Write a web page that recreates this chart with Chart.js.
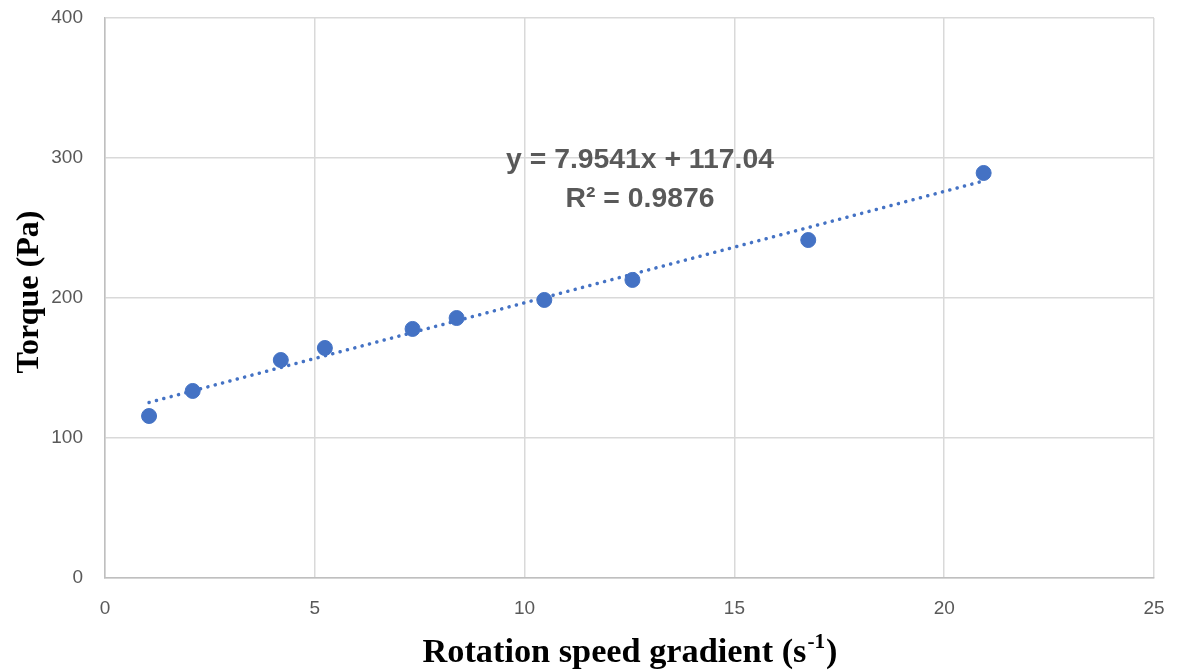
<!DOCTYPE html>
<html>
<head>
<meta charset="utf-8">
<script src="https://cdn.jsdelivr.net/npm/chart.js@4"></script>
<style>
  html, body { margin: 0; padding: 0; background: #ffffff; }
  #wrap { width: 1178px; height: 672px; }
</style>
</head>
<body>
<div id="wrap"><canvas id="torqueChart" width="1178" height="672"></canvas></div>
<script>
// 测量数据
var speedGradient = [1.05, 2.09, 4.19, 5.24, 7.33, 8.38, 10.47, 12.57, 16.76, 20.94];
var torqueValues = [115.7, 133.6, 155.7, 164.3, 177.9, 185.7, 198.6, 212.9, 241.4, 289.3];

// 趋势线两端
var trendX = [1.05, 20.94];
var trendY = [125.4, 283.6];

var equationLines = ['y = 7.9541x + 117.04', 'R\u00b2 = 0.9876'];
var xTitleMain = 'Rotation speed gradient (s';
var xTitleSup = '-1';
var xTitleEnd = ')';
var yTitle = 'Torque (Pa)';

var blue = '#4472C4';
var gridColor = '#d9d9d9';
var tickColor = '#595959';
var serif = '"Liberation Serif", serif';

// 按目标宽度选字号
function fitFont(ctx, text, target, base, family) {
    ctx.font = 'bold ' + base + 'px ' + family;
    var w = ctx.measureText(text).width;
    return base * target / w;
}

// 标题与公式的绘制
var labelPlugin = {
    id: 'labelPlugin',
    afterDraw: function(chart) {
        var ctx = chart.ctx;
        var xs = chart.scales.x;
        var ys = chart.scales.y;
        ctx.save();
        ctx.fillStyle = '#000000';
        ctx.textBaseline = 'alphabetic';
        ctx.textAlign = 'left';

        // x 轴标题, 带上标
        var size = fitFont(ctx, xTitleMain, 384, 28, serif);
        var supSize = size * 0.62;
        ctx.font = 'bold ' + size + 'px ' + serif;
        var wMain = ctx.measureText(xTitleMain).width;
        var wEnd = ctx.measureText(xTitleEnd).width;
        ctx.font = 'bold ' + supSize + 'px ' + serif;
        var wSup = ctx.measureText(xTitleSup).width;
        var total = wMain + wSup + wEnd;
        var x0 = 629 - total / 2;
        var base = 662;
        ctx.font = 'bold ' + size + 'px ' + serif;
        ctx.fillText(xTitleMain, x0, base);
        ctx.font = 'bold ' + supSize + 'px ' + serif;
        ctx.fillText(xTitleSup, x0 + wMain + 1, base - size * 0.4);
        ctx.font = 'bold ' + size + 'px ' + serif;
        ctx.fillText(xTitleEnd, x0 + wMain + wSup + 2, base);

        // y 轴标题
        var ySize = fitFont(ctx, yTitle, 163, 28, serif);
        ctx.font = 'bold ' + ySize + 'px ' + serif;
        ctx.textAlign = 'center';
        ctx.textBaseline = 'middle';
        ctx.translate(30, 292);
        ctx.rotate(-Math.PI / 2);
        ctx.fillText(yTitle, 0, 0);
        ctx.restore();

        // 趋势线公式
        ctx.save();
        ctx.fillStyle = tickColor;
        ctx.textAlign = 'center';
        ctx.textBaseline = 'middle';
        var eqSize = fitFont(ctx, equationLines[0], 268, 26, '"Liberation Sans", sans-serif');
        ctx.font = 'bold ' + eqSize + 'px "Liberation Sans", sans-serif';
        var cx = xs.getPixelForValue(12.75);
        ctx.fillText(equationLines[0], cx, ys.getPixelForValue(298.6));
        ctx.fillText(equationLines[1], cx, ys.getPixelForValue(270.7));
        ctx.restore();
    }
};

new Chart(document.getElementById('torqueChart'), {
    type: 'scatter',
    data: {
        datasets: [{
            label: 'Torque',
            data: speedGradient.map(function(x, i) { return { x: x, y: torqueValues[i] }; }),
            backgroundColor: blue,
            borderColor: blue,
            pointRadius: 7.5,
            order: 1
        }, {
            label: 'Trend',
            type: 'line',
            data: trendX.map(function(x, i) { return { x: x, y: trendY[i] }; }),
            borderColor: blue,
            borderWidth: 3.5,
            borderDash: [0.1, 7.5],
            borderCapStyle: 'round',
            pointRadius: 0,
            fill: false,
            order: 2
        }]
    },
    options: {
        responsive: false,
        animation: false,
        layout: { padding: { top: 18, right: 24, left: 0, bottom: 0 } },
        plugins: {
            legend: { display: false },
            tooltip: { enabled: false }
        },
        scales: {
            x: {
                type: 'linear',
                min: 0,
                max: 25,
                ticks: {
                    stepSize: 5,
                    color: tickColor,
                    font: { family: '"Liberation Sans", sans-serif', size: 19 },
                    padding: 19
                },
                grid: { color: gridColor, lineWidth: 1.5, drawTicks: false },
                border: { color: '#bfbfbf', width: 1.5 },
                afterFit: function(scale) {
                    scale.height = 94;
                    scale.paddingLeft = 0;
                    scale.paddingRight = 0;
                }
            },
            y: {
                min: 0,
                max: 400,
                ticks: {
                    stepSize: 100,
                    color: tickColor,
                    font: { family: '"Liberation Sans", sans-serif', size: 19 },
                    padding: 22
                },
                grid: { color: gridColor, lineWidth: 1.5, drawTicks: false },
                border: { color: '#bfbfbf', width: 1.5 },
                afterFit: function(scale) {
                    scale.width = 105;
                    scale.paddingTop = 0;
                    scale.paddingBottom = 0;
                }
            }
        }
    },
    plugins: [labelPlugin]
});
</script>
</body>
</html>
